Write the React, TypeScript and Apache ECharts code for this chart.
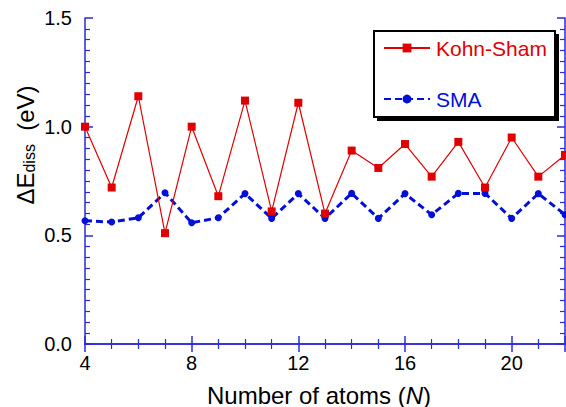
import React, { useEffect, useRef } from "react";
import * as echarts from "echarts";

const atoms = [4, 5, 6, 7, 8, 9, 10, 11, 12, 13, 14, 15, 16, 17, 18, 19, 20, 21, 22];
const kohnSham = [1.0, 0.72, 1.14, 0.51, 1.0, 0.68, 1.12, 0.61, 1.11, 0.6, 0.89, 0.81, 0.92, 0.77, 0.93, 0.72, 0.95, 0.77, 0.87];
const sma = [0.567, 0.561, 0.581, 0.696, 0.558, 0.581, 0.692, 0.578, 0.692, 0.578, 0.693, 0.578, 0.692, 0.595, 0.693, 0.693, 0.578, 0.692, 0.595];
const seriesNames = ["Kohn-Sham", "SMA"];

const FONT = "Liberation Sans, Arial, sans-serif";
const AXIS = "#2a2ad8";
const RED = "#e00000";
const BLUE = "#0010d8";

export default function App() {
  const ref = useRef<HTMLDivElement>(null);
  useEffect(() => {
    if (!ref.current) return;
    const chart = echarts.init(ref.current, null, { renderer: "svg" });
    const axisCommon = {
      axisLine: { show: true, lineStyle: { color: AXIS, width: 1.5 } },
      splitLine: { show: false },
    };
    chart.setOption({
      animation: false,
      backgroundColor: "#fff",
      grid: { left: 85, right: 1, top: 18, bottom: 63 },
      xAxis: [
        {
          type: "value",
          min: 4,
          max: 22,
          interval: 4,
          ...axisCommon,
          axisTick: { show: true, inside: true, length: 8, lineStyle: { color: AXIS, width: 1.5 } },
          minorTick: { show: true, splitNumber: 4, length: 5, lineStyle: { color: AXIS, width: 1.2 } },
          axisLabel: { color: "#000", fontSize: 20, fontFamily: FONT, margin: 9, showMaxLabel: false },
        },
        {
          type: "value",
          position: "top",
          min: 4,
          max: 22,
          interval: 4,
          ...axisCommon,
          axisTick: { show: true, inside: true, length: 8, lineStyle: { color: AXIS, width: 1.5 } },
          minorTick: { show: true, splitNumber: 4, length: 5, lineStyle: { color: AXIS, width: 1.2 } },
          axisLabel: { show: false },
        },
      ],
      yAxis: [
        {
          type: "value",
          min: 0,
          max: 1.5,
          interval: 0.5,
          ...axisCommon,
          axisTick: { show: true, inside: true, length: 8, lineStyle: { color: AXIS, width: 1.5 } },
          minorTick: { show: true, splitNumber: 10, length: 5, lineStyle: { color: AXIS, width: 1.2 } },
          axisLabel: {
            color: "#000",
            fontSize: 20,
            fontFamily: FONT,
            margin: 13,
            formatter: (v: number) => v.toFixed(1),
          },
        },
        {
          type: "value",
          position: "right",
          min: 0,
          max: 1.5,
          interval: 0.5,
          ...axisCommon,
          axisTick: { show: true, inside: true, length: 8, lineStyle: { color: AXIS, width: 1.5 } },
          minorTick: { show: true, splitNumber: 10, length: 5, lineStyle: { color: AXIS, width: 1.2 } },
          axisLabel: { show: false },
        },
      ],
      legend: {
        orient: "vertical",
        left: 374,
        top: 31,
        z: 30,
        padding: [5, 8, 6, 9],
        itemGap: 27,
        itemWidth: 46,
        itemHeight: 11,
        backgroundColor: "transparent",
        borderWidth: 0,
        textStyle: { fontSize: 21, fontFamily: FONT, lineHeight: 24, padding: [0, 0, 0, 1] },
        data: [
          { name: seriesNames[0], textStyle: { color: RED } },
          { name: seriesNames[1], textStyle: { color: BLUE } },
        ],
      },
      graphic: {
        elements: [
          {
            type: "rect",
            z: 21,
            silent: true,
            shape: { x: 374, y: 31, width: 181, height: 86 },
            style: { fill: "#fff", stroke: "#000", lineWidth: 2 },
          },
          {
            type: "rect",
            z: 22,
            silent: true,
            shape: { x: 556, y: 34, width: 3, height: 86 },
            style: { fill: "#000", stroke: "none" },
          },
          {
            type: "rect",
            z: 22,
            silent: true,
            shape: { x: 377, y: 118, width: 182, height: 3 },
            style: { fill: "#000", stroke: "none" },
          },
          {
            type: "text",
            x: 319,
            y: 395,
            style: {
              text: "{a|Number of atoms (}{i|N}{a|)}",
              align: "center",
              verticalAlign: "middle",
              rich: {
                a: { fontSize: 24, fontFamily: FONT, fill: "#000" },
                i: { fontSize: 24, fontFamily: FONT, fontStyle: "italic", fill: "#000" },
              },
            },
          },
          {
            type: "text",
            x: 22,
            y: 145,
            rotation: Math.PI / 2,
            style: {
              text: "{a|ΔE}{s|diss}{a|  (eV)}",
              align: "center",
              verticalAlign: "middle",
              rich: {
                a: { fontSize: 24, fontFamily: FONT, fill: "#000", lineHeight: 30, verticalAlign: "bottom" },
                s: { fontSize: 16, fontFamily: FONT, fill: "#000", lineHeight: 22, padding: [8, 0, 0, 0], verticalAlign: "bottom" },
              },
            },
          },
        ],
      },
      series: [
        {
          name: seriesNames[0],
          type: "line",
          data: atoms.map((n, i) => [n, kohnSham[i]]),
          symbol: "rect",
          symbolSize: 8,
          itemStyle: { color: RED },
          lineStyle: { color: RED, width: 1.2 },
          z: 3,
        },
        {
          name: seriesNames[1],
          type: "line",
          data: atoms.map((n, i) => [n, sma[i]]),
          symbol: "circle",
          symbolSize: 7,
          itemStyle: { color: BLUE },
          lineStyle: { color: BLUE, width: 3, type: [7, 4] },
          z: 2,
        },
      ],
    });
    return () => chart.dispose();
  }, []);
  return <div ref={ref} style={{ width: 566, height: 407, position: "absolute", left: 0, top: 0 }} />;
}
